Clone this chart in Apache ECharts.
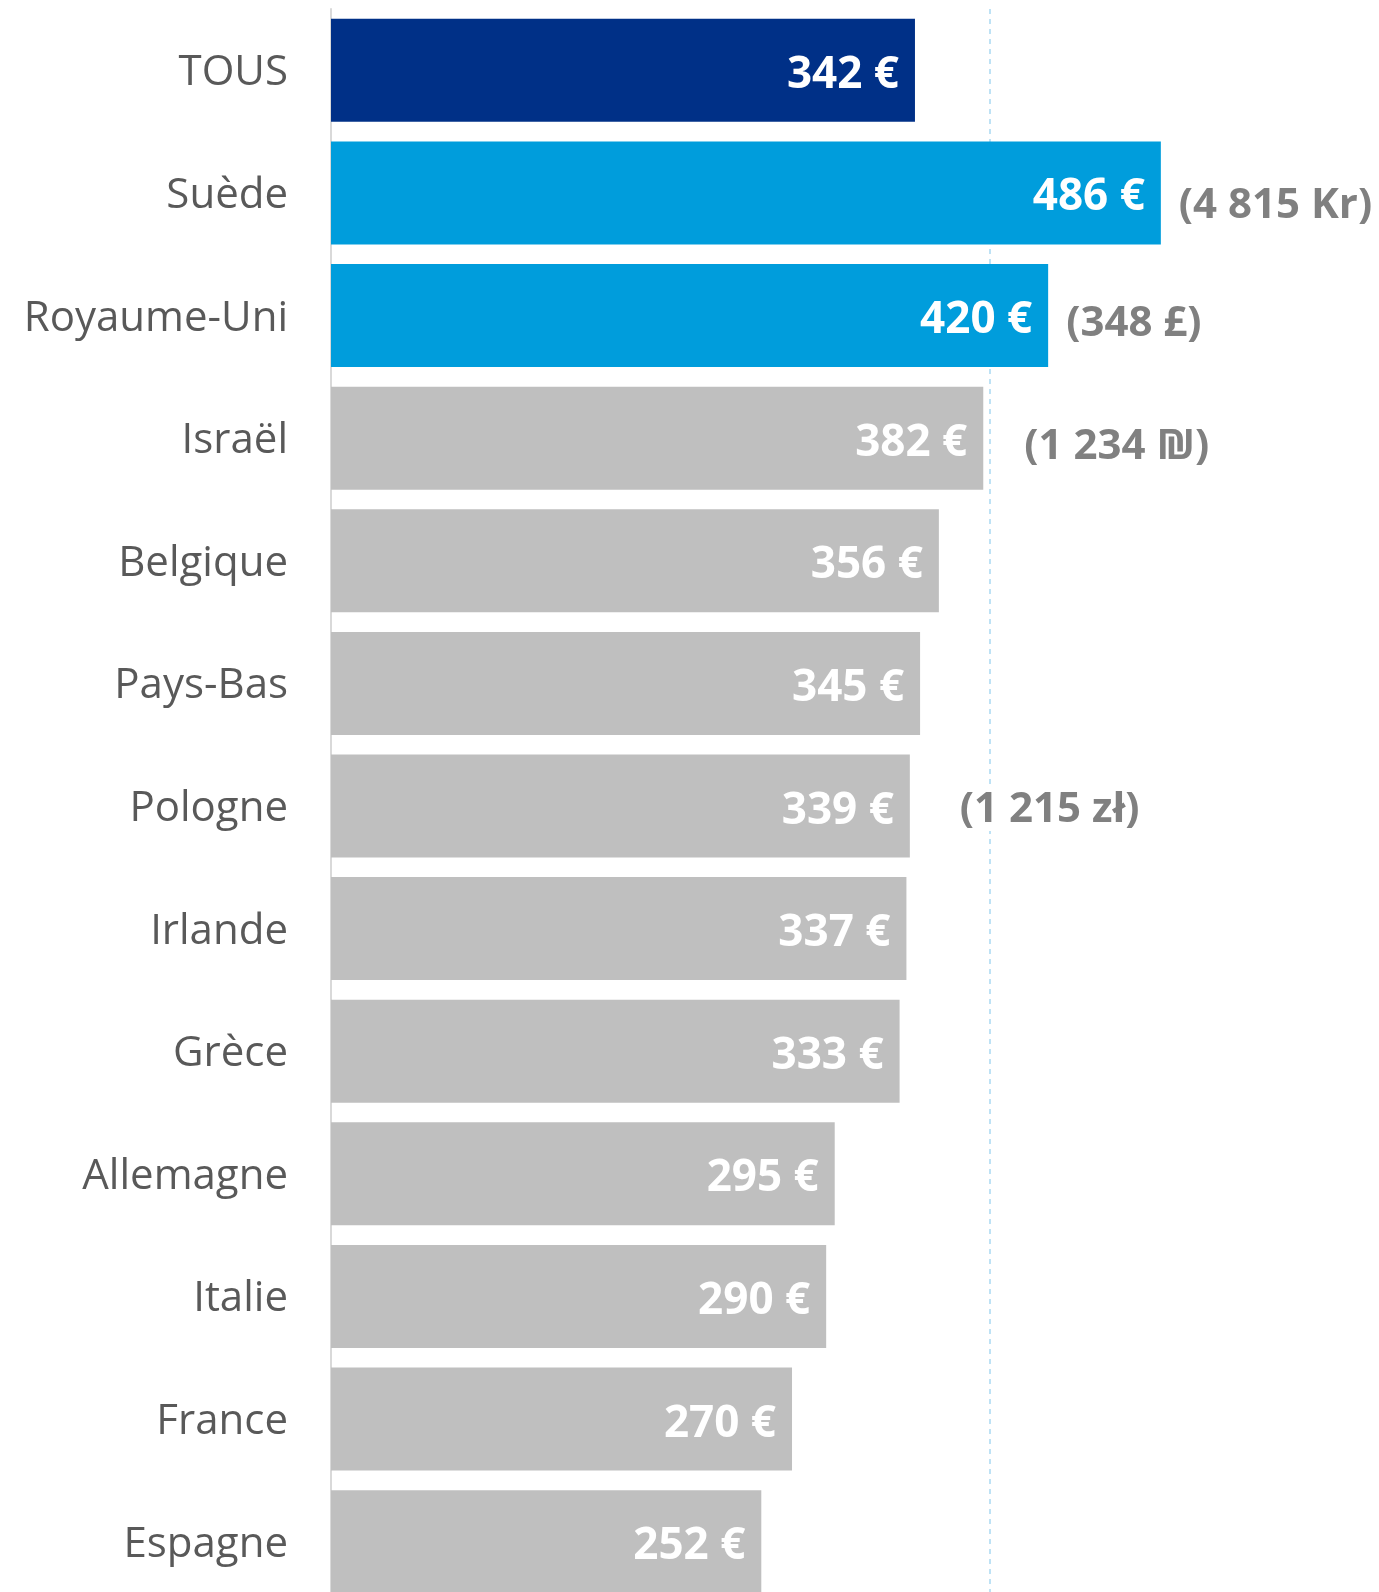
<!DOCTYPE html>
<html>
<head>
<meta charset="utf-8">
<script src="https://cdn.jsdelivr.net/npm/echarts@6/dist/echarts.min.js"></script>
<style>
  html, body { margin: 0; padding: 0; background: #fff; overflow: hidden; }
  /* the last bar runs past the bottom edge of the page */
  #chart { width: 1379px; height: 1603px; }
</style>
</head>
<body>
<div id="chart"></div>
<script>
// Average amount per country, in euros
const countries = ['TOUS', 'Suède', 'Royaume-Uni', 'Israël', 'Belgique', 'Pays-Bas', 'Pologne',
  'Irlande', 'Grèce', 'Allemagne', 'Italie', 'France', 'Espagne'];
const amountsEur = [342, 486, 420, 382, 356, 345, 339, 337, 333, 295, 290, 270, 252];
// Amount in local currency, where it differs from the euro
const localAmounts = ['', '(4 815 Kr)', '(348 £)', '(1 234 ₪)', '', '', '(1 215 zł)',
  '', '', '', '', '', ''];
// Dashed reference line
const referenceValue = 386;

const TOTAL_COLOR = '#003087';
const HIGHLIGHT_COLOR = '#009DDC';
const BASE_COLOR = '#BFBFBF';
const highlighted = ['Suède', 'Royaume-Uni'];

function barColor(name) {
  if (name === 'TOUS') return TOTAL_COLOR;
  if (highlighted.includes(name)) return HIGHLIGHT_COLOR;
  return BASE_COLOR;
}

// extra shift [dx, dy] of the local-currency notes
const noteShift = {
  'Suède': [0, 13],
  'Royaume-Uni': [0, 8],
  'Israël': [23, 9],
  'Pologne': [32, 4]
};

const chart = echarts.init(document.getElementById('chart'), null, { renderer: 'canvas' });

const labelFont = '"Open Sans", "DejaVu Sans", sans-serif';

chart.setOption({
  animation: false,
  grid: { left: 331, width: 1024.5, top: 9, bottom: 0, containLabel: false },
  xAxis: {
    type: 'value', min: 0, max: 600,
    show: false,
    splitLine: { show: false }
  },
  yAxis: {
    type: 'category',
    data: countries,
    inverse: true,
    axisLine: { show: true, lineStyle: { color: '#D9D9D9', width: 2 } },
    axisTick: { show: false },
    axisLabel: {
      margin: 43,
      color: '#595959',
      fontFamily: labelFont,
      fontSize: 42,
      fontWeight: 400,
      // a short line box anchored at the top sits the text slightly below the band centre
      verticalAlign: 'top',
      lineHeight: 6
    }
  },
  series: [
    {
      // reference line, drawn behind the bars
      type: 'line',
      data: [],
      z: 0,
      silent: true,
      markLine: {
        z: 0,
        symbol: 'none',
        silent: true,
        label: { show: false },
        lineStyle: { color: '#A9D9F2', type: [5, 5], width: 1.5 },
        data: [{ xAxis: referenceValue }]
      }
    },
    {
      type: 'bar',
      z: 3,
      barWidth: 103,
      data: amountsEur.map((v, i) => ({
        value: v,
        itemStyle: { color: barColor(countries[i]) }
      })),
      label: {
        show: true,
        position: 'insideRight',
        distance: 16,
        color: '#FFFFFF',
        fontFamily: labelFont,
        fontWeight: 700,
        fontSize: 44,
        offset: [0, 5],
        formatter: p => p.value + ' €'
      }
    },
    {
      // local-currency notes placed after the bar ends
      type: 'bar',
      z: 2,
      barWidth: 103,
      barGap: '-100%',
      silent: true,
      itemStyle: { color: 'rgba(0,0,0,0)' },
      data: amountsEur.map((v, i) => ({
        value: v,
        label: {
          show: localAmounts[i] !== '',
          offset: noteShift[countries[i]] || [0, 0]
        }
      })),
      label: {
        position: 'right',
        distance: 18,
        color: '#808080',
        backgroundColor: '#FFFFFF',
        fontFamily: labelFont,
        fontWeight: 700,
        fontSize: 42,
        formatter: p => localAmounts[p.dataIndex]
      }
    }
  ]
});
</script>
</body>
</html>
